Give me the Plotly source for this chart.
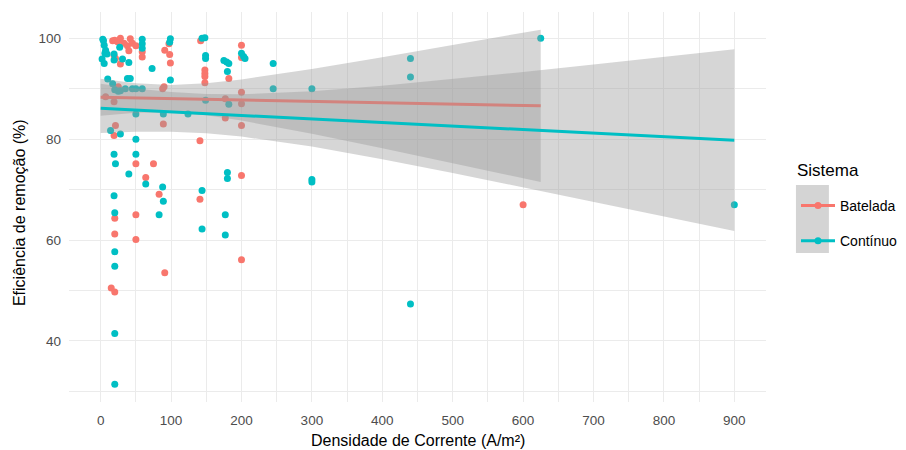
import plotly.graph_objects as go

# ---- data ----
bat_x = [7, 19, 17, 20, 24, 28, 33, 38, 42, 45, 50, 40, 19, 21, 28, 25, 59, 59, 21, 19,
         50, 75, 64, 83, 20, 50, 20, 50, 91, 15, 20, 91, 98, 99, 97, 90, 88, 89, 142, 148,
         148, 148, 148, 141, 141, 182, 177, 177, 200, 200, 200, 200, 200, 200, 200, 600]
bat_y = [88.4, 87.4, 99.5, 99.6, 99.3, 100, 99, 98.5, 99.9, 99, 98.5, 97.5, 96.6, 96, 94.9, 90.4, 97.3, 96.3, 82.7, 80.7,
         75.1, 75.1, 72.4, 69.1, 64.3, 65, 61.2, 60.1, 53.5, 50.5, 49.7, 97.6, 96.8, 95.1, 98.9, 90.4, 90, 83, 99.5, 93.7,
         93, 92.4, 91.2, 79.7, 68.1, 92, 88, 84.2, 72.8, 98.6, 96.2, 89.3, 87, 82.7, 56.1, 67]

con_x = [4, 5, 7, 9, 2, 5, 3, 6, 10, 19, 19, 27, 31, 40, 59, 59, 59, 73, 99, 98, 99, 124, 89, 144, 148,
         149, 149, 149, 144, 175, 179, 182, 180, 182, 180, 180, 200, 203, 205, 17, 20, 25, 28, 38, 42,
         35, 45, 50, 59, 50, 14, 28, 50, 19, 50, 21, 40, 64, 88, 89, 19, 20, 83, 177, 144, 177, 20, 20,
         20, 20, 245, 245, 300, 300, 300, 440, 440, 440, 625, 900]
con_y = [99.5, 98.6, 97.6, 96.9, 95.9, 95, 99.8, 97, 91.9, 96.9, 95.7, 98.2, 95.9, 95.2, 99.8, 98.9, 98, 94, 99.9, 99.2, 91.7, 85, 85, 100, 100.1,
         96.6, 96, 87.7, 69.8, 95.6, 95.3, 95, 93.4, 86.9, 73.4, 72.2, 97, 96.4, 96, 91, 89.8, 89.5, 89.6, 92, 92,
         90, 90, 90, 90, 85, 81.7, 81, 80, 77, 77, 75.1, 73.1, 71.1, 70.5, 67.7, 68.8, 65.4, 65, 65, 62.2, 61, 57.7, 54.8,
         41.5, 31.4, 95, 90, 90, 72, 71.5, 96, 92.3, 47.3, 100, 67]

# fitted lines and confidence bands
bat_fx = [0, 50, 100, 150, 200, 300, 400, 500, 600, 625]
bat_fit = [88.3, 88.16, 88.03, 87.89, 87.76, 87.48, 87.21, 86.94, 86.67, 86.6]
bat_up = [91.97, 91.08, 90.75, 91.06, 91.84, 93.91, 96.23, 98.64, 101.07, 101.7]
bat_lo = [84.63, 85.24, 85.31, 84.72, 83.68, 81.05, 78.19, 75.24, 72.27, 71.5]

con_fx = [0, 50, 100, 150, 200, 300, 400, 500, 600, 700, 800, 900]
con_fit = [86.1, 85.75, 85.4, 85.05, 84.7, 84.0, 83.3, 82.6, 81.9, 81.2, 80.5, 79.8]
con_up = [91.0, 90.03, 89.34, 88.95, 88.89, 89.48, 90.58, 91.89, 93.3, 94.8, 96.3, 97.8]
con_lo = [81.2, 81.47, 81.46, 81.15, 80.51, 78.52, 76.02, 73.31, 70.5, 67.6, 64.7, 61.8]

x_ticks = [0, 100, 200, 300, 400, 500, 600, 700, 800, 900]
y_ticks = [40, 60, 80, 100]

RED = "#F8766D"
TEAL = "#00BFC4"
BAND = "rgba(153,153,153,0.4)"

fig = go.Figure()

fig.add_trace(go.Scatter(x=bat_x, y=bat_y, mode="markers", showlegend=False,
                         marker=dict(color=RED, size=7)))
fig.add_trace(go.Scatter(x=con_x, y=con_y, mode="markers", showlegend=False,
                         marker=dict(color=TEAL, size=7)))

for fx, fit, up, lo, col in [(bat_fx, bat_fit, bat_up, bat_lo, RED),
                             (con_fx, con_fit, con_up, con_lo, TEAL)]:
    fig.add_trace(go.Scatter(x=fx + fx[::-1], y=up + lo[::-1], mode="lines",
                             fill="toself", fillcolor=BAND, line=dict(width=0),
                             showlegend=False, hoverinfo="skip"))
    fig.add_trace(go.Scatter(x=fx, y=fit, mode="lines", line=dict(color=col, width=3),
                             showlegend=False))

# legend entries
for name, col in [("Batelada", RED), ("Contínuo", TEAL)]:
    fig.add_trace(go.Scatter(x=[None], y=[None], mode="lines+markers", name=name,
                             legendgroup=name,
                             line=dict(color=col, width=3), marker=dict(color=col, size=7)))

# the page adds an 8px body margin, so the figure is sized to fit the window
W, H = 898, 442
L, T, R, B = 61, 4, 139, 48
PL, PT = 8 + L, 8 + T                 # panel left/top in page pixels
PW, PH = W - L - R, H - T - B          # panel size


def px(x):
    return (x - PL) / PW


def py(y):
    return (PT + PH - y) / PH


grid = "#EBEBEB"
fig.update_layout(
    width=W, height=H,
    margin=dict(l=L, r=R, t=T, b=B),
    paper_bgcolor="white", plot_bgcolor="white",
    font=dict(family="Liberation Sans, Arial, sans-serif", color="#4D4D4D", size=13.5),
    xaxis=dict(range=[-45, 945], tickvals=x_ticks, showgrid=True, gridcolor=grid, gridwidth=1.4,
               zeroline=False, showline=False, ticks="", automargin=False, ticklabelstandoff=8,
               minor=dict(dtick=50, tick0=0, showgrid=True, gridcolor=grid, gridwidth=0.8),
               tickfont=dict(size=13.5, color="#4D4D4D")),
    yaxis=dict(range=[27.9, 105.2], tickvals=y_ticks, showgrid=True, gridcolor=grid, gridwidth=1.4,
               zeroline=False, showline=False, ticks="", automargin=False, ticklabelstandoff=7,
               minor=dict(dtick=10, tick0=0, showgrid=True, gridcolor=grid, gridwidth=0.8),
               tickfont=dict(size=13.5, color="#4D4D4D")),
    legend=dict(x=px(796), y=py(190), xanchor="left", yanchor="top", bgcolor="rgba(0,0,0,0)",
                font=dict(size=14, color="black"), tracegroupgap=14, itemwidth=34),
    shapes=[dict(type="rect", xref="paper", yref="paper", x0=px(797), x1=px(830), y0=py(253), y1=py(185),
                 fillcolor="#D4D4D4", line=dict(width=0), layer="below")],
    annotations=[
        dict(text="Densidade de Corrente (A/m²)", xref="paper", yref="paper",
             x=px(418), y=py(440), xanchor="center", yanchor="middle",
             showarrow=False, font=dict(size=16, color="black")),
        dict(text="Eficiência de remoção (%)", xref="paper", yref="paper",
             x=px(20), y=py(213), xanchor="center", yanchor="middle",
             textangle=-90, showarrow=False, font=dict(size=16, color="black")),
        dict(text="Sistema", xref="paper", yref="paper",
             x=px(796), y=py(170), xanchor="left", yanchor="middle",
             showarrow=False, font=dict(size=17, color="black")),
    ],
)

fig.write_html("out.html")
